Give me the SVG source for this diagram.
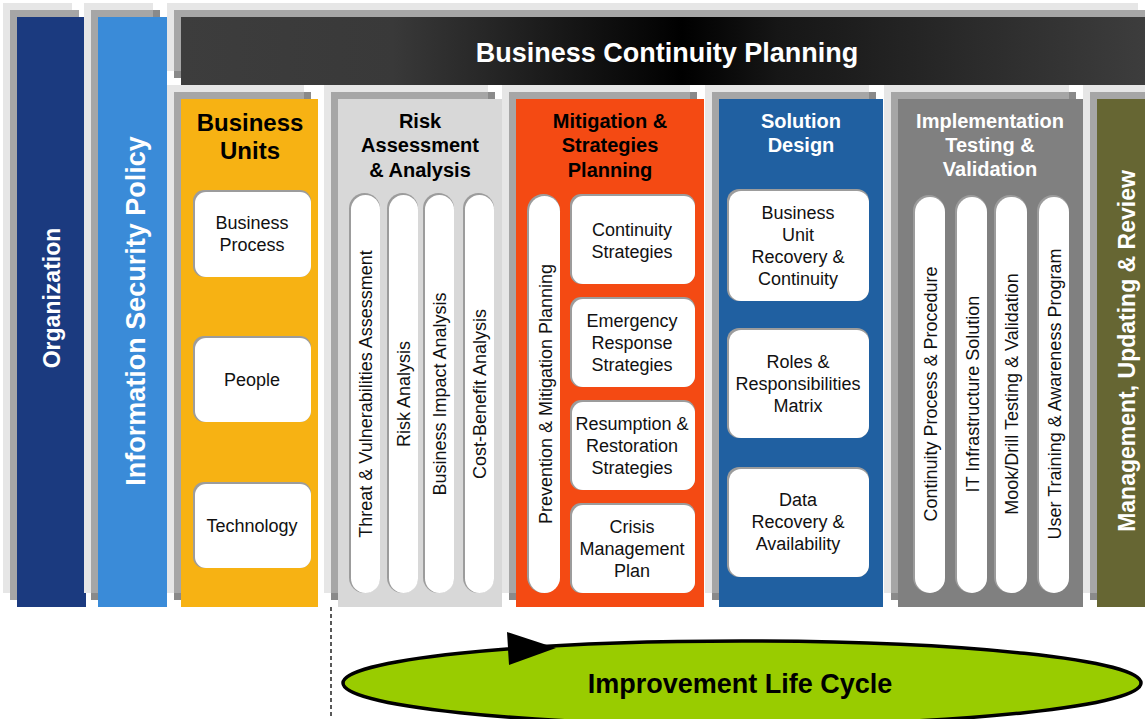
<svg xmlns="http://www.w3.org/2000/svg" width="1145" height="719" viewBox="0 0 1145 719">
<defs>
<linearGradient id="bandGrad" x1="0" y1="0" x2="1" y2="0">
<stop offset="0" stop-color="#3d3d3d"/>
<stop offset="0.22" stop-color="#393939"/>
<stop offset="0.52" stop-color="#000000"/>
<stop offset="0.62" stop-color="#161616"/>
<stop offset="1" stop-color="#3d3d3d"/>
</linearGradient>
<style>
.lg{fill:#e6e6e6}
.mg{fill:#a6a6a6}
.dk{fill:#8a8a8a}
.sh{fill:#9c9c9c}
.wb{fill:#ffffff}
text{font-family:"Liberation Sans",Arial,sans-serif}
.h{font-weight:bold;font-size:20px;text-anchor:middle}
.h24{font-weight:bold;font-size:24px;text-anchor:middle}
.hw{fill:#ffffff}
.hb{fill:#000000}
.b{font-size:18px;text-anchor:middle;fill:#111111}
.v{font-size:18px;text-anchor:middle;fill:#111111}
.big{font-weight:bold;text-anchor:middle;fill:#ffffff}
</style>
</defs>
<rect x="0" y="0" width="1145" height="719" fill="#ffffff"/>

<g id="organization">
<rect class="lg" x="3" y="3" width="69" height="590"/>
<rect class="mg" x="10" y="10" width="69" height="590"/>
<rect fill="#1b3a7f" x="17" y="17" width="69" height="590"/>
<text class="big" font-size="23" transform="translate(52,298) rotate(-90)" y="8">Organization</text>
</g>

<g id="info-security-policy">
<rect class="lg" x="84" y="3" width="69" height="590"/>
<rect class="mg" x="91" y="10" width="69" height="590"/>
<rect class="dk" x="153" y="10" width="7" height="7"/>
<rect class="dk" x="91" y="593" width="7" height="7"/>
<rect fill="#3a8bd8" x="98" y="17" width="69" height="590"/>
<text class="big" font-size="27" transform="translate(135,311) rotate(-90)" y="9.5">Information Security Policy</text>
</g>

<g id="bcp-band">
<rect class="lg" x="167" y="3" width="971" height="68"/>
<rect class="mg" x="174" y="10" width="980" height="68"/>
<rect class="dk" x="174" y="71" width="7" height="7"/>
<rect fill="url(#bandGrad)" x="181" y="17" width="964" height="68"/>
<text class="big" font-size="27" x="667" y="61.5">Business Continuity Planning</text>
</g>

<g id="business-units">
<rect class="lg" x="167" y="85" width="137" height="508"/>
<rect class="mg" x="174" y="92" width="137" height="508"/>
<rect class="dk" x="304" y="92" width="7" height="7"/>
<rect class="dk" x="174" y="593" width="7" height="7"/>
<rect fill="#f7b213" x="181" y="99" width="137" height="508"/>
<text class="h24 hb" x="250" y="130.5">Business</text>
<text class="h24 hb" x="250" y="158.5">Units</text>
<rect class="sh" x="193" y="190" width="118" height="87" rx="11"/>
<rect class="wb" x="195" y="192" width="116" height="85" rx="11"/>
<text class="b" x="252" y="228.5">Business</text>
<text class="b" x="252" y="250.5">Process</text>
<rect class="sh" x="193" y="336" width="118" height="86" rx="11"/>
<rect class="wb" x="195" y="338" width="116" height="84" rx="11"/>
<text class="b" x="252" y="385.5">People</text>
<rect class="sh" x="193" y="482" width="118" height="86" rx="11"/>
<rect class="wb" x="195" y="484" width="116" height="84" rx="11"/>
<text class="b" x="252" y="531.5">Technology</text>
</g>

<g id="risk-assessment">
<rect class="lg" x="324" y="85" width="164" height="508"/>
<rect class="mg" x="331" y="92" width="164" height="508"/>
<rect class="dk" x="488" y="92" width="7" height="7"/>
<rect class="dk" x="331" y="593" width="7" height="7"/>
<rect fill="#d8d8d8" x="338" y="99" width="164" height="508"/>
<text class="h hb" x="420" y="128">Risk</text>
<text class="h hb" x="420" y="152">Assessment</text>
<text class="h hb" x="420" y="177">&amp; Analysis</text>
<rect class="sh" x="349" y="193" width="31" height="400" rx="15.5"/>
<rect class="wb" x="351" y="195" width="29" height="398" rx="14.5"/>
<text class="v" transform="translate(365,394) rotate(-90)" y="6.5">Threat &amp; Vulnerabilities Assessment</text>
<rect class="sh" x="387" y="193" width="31" height="400" rx="15.5"/>
<rect class="wb" x="389" y="195" width="29" height="398" rx="14.5"/>
<text class="v" transform="translate(403,394) rotate(-90)" y="6.5">Risk Analysis</text>
<rect class="sh" x="423" y="193" width="31" height="400" rx="15.5"/>
<rect class="wb" x="425" y="195" width="29" height="398" rx="14.5"/>
<text class="v" transform="translate(439,394) rotate(-90)" y="6.5">Business Impact Analysis</text>
<rect class="sh" x="463" y="193" width="31" height="400" rx="15.5"/>
<rect class="wb" x="465" y="195" width="29" height="398" rx="14.5"/>
<text class="v" transform="translate(479,394) rotate(-90)" y="6.5">Cost-Benefit Analysis</text>
</g>

<g id="mitigation-planning">
<rect class="lg" x="502" y="85" width="188" height="508"/>
<rect class="mg" x="509" y="92" width="188" height="508"/>
<rect class="dk" x="690" y="92" width="7" height="7"/>
<rect class="dk" x="509" y="593" width="7" height="7"/>
<rect fill="#f44a13" x="516" y="99" width="188" height="508"/>
<text class="h hb" x="610" y="128">Mitigation &amp;</text>
<text class="h hb" x="610" y="152">Strategies</text>
<text class="h hb" x="610" y="177">Planning</text>
<rect class="sh" x="527" y="194" width="33" height="399" rx="16.5"/>
<rect class="wb" x="529" y="196" width="31" height="397" rx="15.5"/>
<text class="v" transform="translate(545,394) rotate(-90)" y="6.5">Prevention &amp; Mitigation Planning</text>
<rect class="sh" x="570" y="194" width="125" height="90" rx="11"/>
<rect class="wb" x="572" y="196" width="123" height="88" rx="11"/>
<text class="b" x="632" y="235.5">Continuity</text>
<text class="b" x="632" y="257.5">Strategies</text>
<rect class="sh" x="570" y="297" width="125" height="90" rx="11"/>
<rect class="wb" x="572" y="299" width="123" height="88" rx="11"/>
<text class="b" x="632" y="326.5">Emergency</text>
<text class="b" x="632" y="348.5">Response</text>
<text class="b" x="632" y="370.5">Strategies</text>
<rect class="sh" x="570" y="400" width="125" height="90" rx="11"/>
<rect class="wb" x="572" y="402" width="123" height="88" rx="11"/>
<text class="b" x="632" y="429.5">Resumption &amp;</text>
<text class="b" x="632" y="451.5">Restoration</text>
<text class="b" x="632" y="473.5">Strategies</text>
<rect class="sh" x="570" y="503" width="125" height="90" rx="11"/>
<rect class="wb" x="572" y="505" width="123" height="88" rx="11"/>
<text class="b" x="632" y="532.5">Crisis</text>
<text class="b" x="632" y="554.5">Management</text>
<text class="b" x="632" y="576.5">Plan</text>
</g>

<g id="solution-design">
<rect class="lg" x="705" y="85" width="164" height="508"/>
<rect class="mg" x="712" y="92" width="164" height="508"/>
<rect class="dk" x="869" y="92" width="7" height="7"/>
<rect class="dk" x="712" y="593" width="7" height="7"/>
<rect fill="#2060a1" x="719" y="99" width="164" height="508"/>
<text class="h hw" x="801" y="128">Solution</text>
<text class="h hw" x="801" y="152">Design</text>
<rect class="sh" x="727" y="189" width="142" height="112" rx="12"/>
<rect class="wb" x="729" y="191" width="140" height="110" rx="12"/>
<text class="b" x="798" y="218.5">Business</text>
<text class="b" x="798" y="240.5">Unit</text>
<text class="b" x="798" y="262.5">Recovery &amp;</text>
<text class="b" x="798" y="284.5">Continuity</text>
<rect class="sh" x="727" y="328" width="142" height="110" rx="12"/>
<rect class="wb" x="729" y="330" width="140" height="108" rx="12"/>
<text class="b" x="798" y="367.5">Roles &amp;</text>
<text class="b" x="798" y="389.5">Responsibilities</text>
<text class="b" x="798" y="411.5">Matrix</text>
<rect class="sh" x="727" y="467" width="142" height="110" rx="12"/>
<rect class="wb" x="729" y="469" width="140" height="108" rx="12"/>
<text class="b" x="798" y="505.5">Data</text>
<text class="b" x="798" y="527.5">Recovery &amp;</text>
<text class="b" x="798" y="549.5">Availability</text>
</g>

<g id="implementation-testing">
<rect class="lg" x="884" y="85" width="185" height="508"/>
<rect class="mg" x="891" y="92" width="185" height="508"/>
<rect class="dk" x="1069" y="92" width="7" height="7"/>
<rect class="dk" x="891" y="593" width="7" height="7"/>
<rect fill="#808080" x="898" y="99" width="185" height="508"/>
<text class="h hw" x="990" y="128">Implementation</text>
<text class="h hw" x="990" y="152">Testing &amp;</text>
<text class="h hw" x="990" y="176">Validation</text>
<rect class="sh" x="913" y="195" width="32" height="398" rx="16"/>
<rect class="wb" x="915" y="197" width="30" height="396" rx="15"/>
<text class="v" transform="translate(930,394) rotate(-90)" y="6.5">Continuity Process &amp; Procedure</text>
<rect class="sh" x="955" y="195" width="32" height="398" rx="16"/>
<rect class="wb" x="957" y="197" width="30" height="396" rx="15"/>
<text class="v" transform="translate(972,394) rotate(-90)" y="6.5">IT Infrastructure Solution</text>
<rect class="sh" x="994" y="195" width="33" height="398" rx="16"/>
<rect class="wb" x="996" y="197" width="31" height="396" rx="15"/>
<text class="v" transform="translate(1011.5,394) rotate(-90)" y="6.5">Mook/Drill Testing &amp; Validation</text>
<rect class="sh" x="1037" y="195" width="32" height="398" rx="16"/>
<rect class="wb" x="1039" y="197" width="30" height="396" rx="15"/>
<text class="v" transform="translate(1054,394) rotate(-90)" y="6.5">User Training &amp; Awareness Program</text>
</g>

<g id="management-review">
<rect class="lg" x="1083" y="85" width="80" height="508"/>
<rect class="mg" x="1090" y="92" width="80" height="508"/>
<rect class="dk" x="1090" y="593" width="7" height="7"/>
<rect fill="#666633" x="1097" y="99" width="60" height="508"/>
<text class="big" font-size="23" transform="translate(1127,351) rotate(-90)" y="8">Management, Updating &amp; Review</text>
</g>

<g id="improvement-life-cycle">
<ellipse cx="742" cy="683" rx="399" ry="42" fill="#99cc00" stroke="#000000" stroke-width="3.5"/>
<text x="740" y="693" font-size="27" font-weight="bold" text-anchor="middle" fill="#000000">Improvement Life Cycle</text>
</g>

<g id="connectors">
<line x1="331" y1="607" x2="331" y2="719" stroke="#000000" stroke-width="1.3" stroke-dasharray="4,3"/>
<polygon points="507,632 556,648 509,665" fill="#000000"/>
</g>
</svg>
